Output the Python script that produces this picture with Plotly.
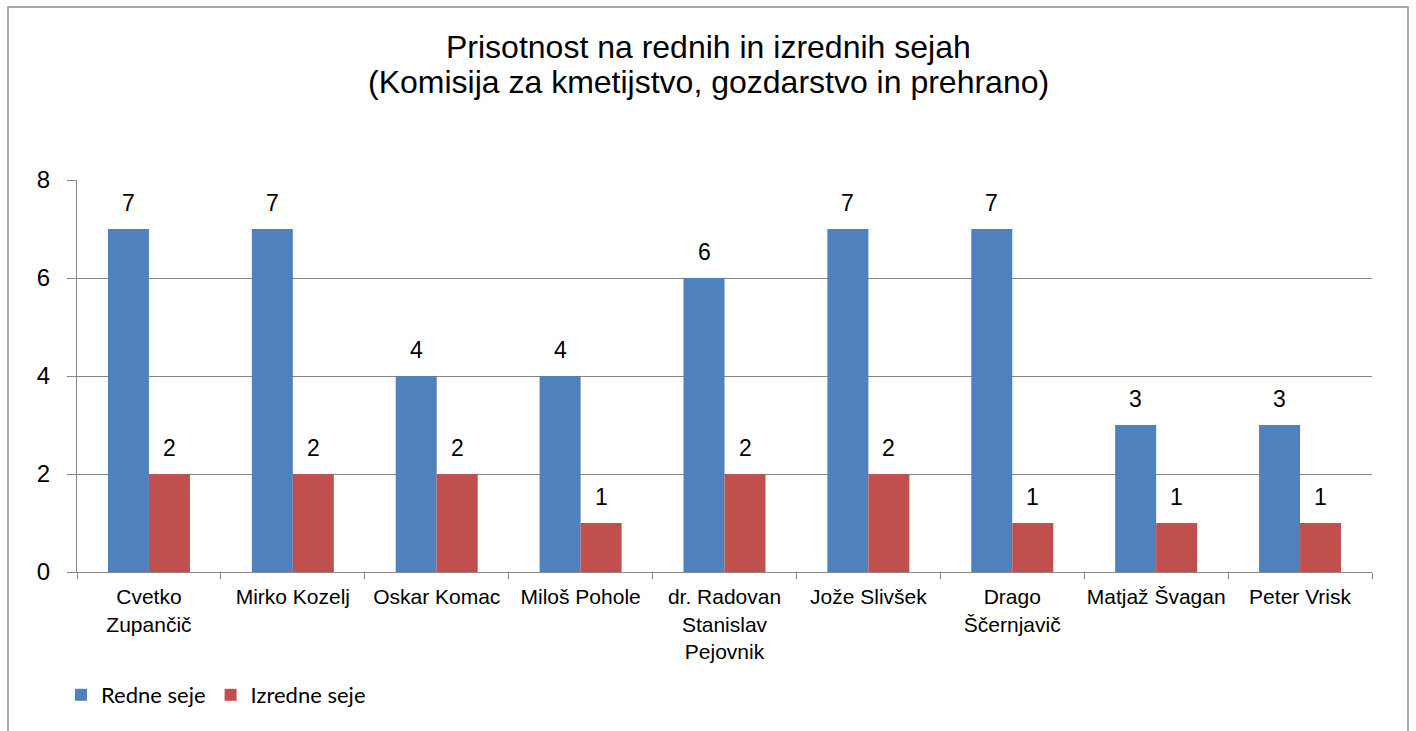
import plotly.graph_objects as go

categories = ["Cvetko<br>Zupančič", "Mirko Kozelj", "Oskar Komac", "Miloš Pohole",
              "dr. Radovan<br>Stanislav<br>Pejovnik", "Jože Slivšek", "Drago<br>Ščernjavič",
              "Matjaž Švagan", "Peter Vrisk"]
redne = [7, 7, 4, 4, 6, 7, 7, 3, 3]
izredne = [2, 2, 2, 1, 2, 2, 1, 1, 1]
series_names = ["Redne seje", "Izredne seje"]
y_ticks = [0, 2, 4, 6, 8]
title_lines = ["Prisotnost na rednih in izrednih sejah",
               "(Komisija za kmetijstvo, gozdarstvo in prehrano)"]

W, H = 1416, 731
L, R, T, B = 77, 44, 180, 159
pw, ph = W - L - R, H - T - B
BARGAP = 0.43

def px_x(x):
    return (x - L) / pw

def px_y(y):
    return (H - B - y) / ph

FONT = "Arial, Liberation Sans"

fig = go.Figure()
series = [(series_names[0], redne, "#4F81BD"), (series_names[1], izredne, "#C0504D")]
for name, vals, color in series:
    fig.add_trace(go.Bar(
        x=categories, y=vals, name=name,
        marker=dict(color=color, line=dict(width=0)),
    ))

annotations = []
bw = (1 - BARGAP) / len(series)
for si, (name, vals, color) in enumerate(series):
    off = (si - (len(series) - 1) / 2) * bw
    for ci, v in enumerate(vals):
        annotations.append(dict(
            text=str(v), xref="x", yref="y", x=ci + off, y=v,
            xanchor="center", yanchor="bottom", yshift=11, showarrow=False,
            font=dict(family=FONT, size=23, color="black"),
        ))

for line, ypx in zip(title_lines, [47, 82]):
    annotations.append(dict(
        text=line, xref="paper", yref="paper", x=px_x(708), y=px_y(ypx),
        xanchor="center", yanchor="middle", showarrow=False,
        font=dict(family=FONT, size=32, color="black"),
    ))

fig.update_layout(
    width=W, height=H,
    margin=dict(l=L, r=R, t=T, b=B, autoexpand=False),
    paper_bgcolor="white", plot_bgcolor="white",
    barmode="group", bargap=BARGAP, bargroupgap=0,
    annotations=annotations,
    xaxis=dict(
        showline=True, linecolor="#868686", linewidth=1,
        ticks="outside", tickson="boundaries", ticklen=6, tickcolor="#868686",
        tickfont=dict(family=FONT, size=21, color="black"), tickangle=0,
        showgrid=False, automargin=False, ticklabelstandoff=6,
    ),
    yaxis=dict(
        range=[0, 8], tickvals=y_ticks,
        showline=True, linecolor="#868686", linewidth=1,
        ticks="outside", ticklen=9, tickcolor="#868686",
        showgrid=True, gridcolor="#868686", gridwidth=1,
        zeroline=False, automargin=False,
        tickfont=dict(family=FONT, size=24, color="black"),
        ticklabelstandoff=12,
    ),
    showlegend=True,
    legend=dict(
        orientation="h", x=px_x(61), xanchor="left", y=px_y(695), yanchor="middle",
        font=dict(family="Lato, Noto Sans", size=22, color="black"),
        itemwidth=30, traceorder="normal",
    ),
    shapes=[dict(
        type="rect", xref="paper", yref="paper",
        x0=px_x(8), x1=px_x(1408), y0=px_y(760), y1=px_y(7),
        line=dict(color="#8C8C8C", width=1.5), fillcolor="rgba(0,0,0,0)", layer="below",
    )],
)

fig.write_html("out.html", config={"displayModeBar": False},
               post_script="document.body.style.margin='0';document.body.style.overflow='hidden';")
